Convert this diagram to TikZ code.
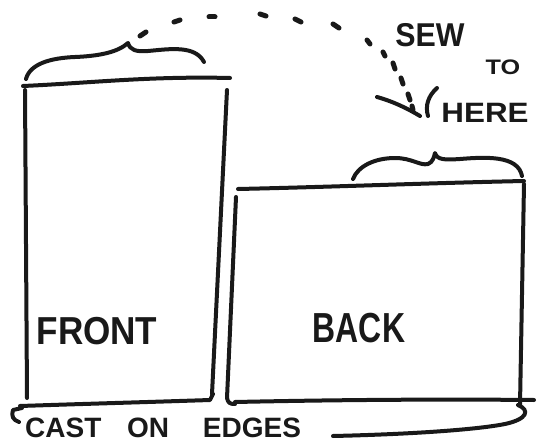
\documentclass[tikz,border=0pt]{standalone}
\usepackage{fontspec}
\usepackage{graphicx}
\newfontfamily\hand{Liberation Sans}
\begin{document}
\begin{tikzpicture}[x=1pt,y=-1pt,
  pen/.style={line width=4pt, line cap=round, line join=round, draw=black!90},
  dotpen/.style={line width=5pt, line cap=round, draw=black!90},
  lbl/.style={inner sep=0pt, text=black!90}]
\useasboundingbox (0,0) rectangle (538,444);
\fill[white] (0,0) rectangle (538,444);
% FRONT piece
\draw[pen] (23,86) .. controls (90,83) and (150,76) .. (230,78);
\draw[pen] (25,90) -- (27,398);
\draw[pen] (227,90) -- (212,394);
\draw[pen] (20,406) .. controls (80,404) and (150,402) .. (210,400) -- (213,394);
\draw[pen] (22,408) -- (13,410) .. controls (11,416) and (13,420) .. (19,422);
% brace above front
\draw[pen] (26,79) .. controls (30,64) and (50,58) .. (75,57)
  .. controls (100,56) and (118,52) .. (128,43)
  .. controls (130,50) and (136,52) .. (148,51)
  .. controls (170,49) and (195,45) .. (204,62);
% BACK piece
\draw[pen] (238,189) .. controls (330,187) and (430,183) .. (524,181);
\draw[pen] (236,197) -- (227,398) .. controls (228,403) and (230,404) .. (235,404);
\draw[pen] (235,402) .. controls (330,400) and (430,399) .. (534,400);
\draw[pen] (524,184) -- (520,405);
% brace above back
\draw[pen] (353,179) .. controls (358,166) and (375,158) .. (395,158)
  .. controls (412,158) and (420,166) .. (428,164)
  .. controls (433,162) and (434,157) .. (435,153)
  .. controls (437,160) and (445,160) .. (460,159)
  .. controls (485,157) and (518,155) .. (522,176);
% cast-on line
\draw[pen] (333,436) .. controls (420,434) and (480,429) .. (505,424)
  .. controls (528,419) and (530,410) .. (518,405);
% stitching dots
\draw[dotpen] (140,36) -- (146,32);
\draw[dotpen] (174,22) -- (180,20);
\draw[dotpen] (209,17) -- (215,17);
\draw[dotpen] (260,14) -- (266,16);
\draw[dotpen] (295,19) -- (301,22);
\draw[dotpen] (333,24) -- (339,28);
\draw[dotpen] (367,40) -- (370,44);
\draw[dotpen] (383,52) -- (385,56);
\draw[dotpen] (393,63) -- (395,69);
\draw[dotpen] (401,78) -- (403,84);
\draw[dotpen] (408,94) -- (410,100);
\draw[dotpen] (412,106) -- (413,110);
% arrowhead strokes
\draw[pen] (377,97) .. controls (395,102) and (410,110) .. (420,116);
\draw[pen] (437,88) .. controls (428,96) and (425,106) .. (428,116);
% labels
\node[lbl] (front) at (97,331) {\hand\bfseries\fontsize{39}{39}\selectfont\scalebox{0.9}[1]{FRONT}};
\node[lbl] (back) at (359,328) {\hand\bfseries\fontsize{42}{42}\selectfont\scalebox{0.76}[1]{BACK}};
\node[lbl] (sew) at (430,35) {\hand\bfseries\fontsize{33}{33}\selectfont\scalebox{0.92}[1]{SEW}};
\node[lbl] (to) at (503,67) {\hand\bfseries\fontsize{21}{21}\selectfont\scalebox{1.2}[1]{TO}};
\node[lbl] (here) at (485,113) {\hand\bfseries\fontsize{28}{28}\selectfont\scalebox{1.12}[1]{HERE}};
\node[lbl, anchor=west] (cast) at (25,428) {\hand\bfseries\fontsize{28}{28}\selectfont CAST \hspace{18pt}ON \hspace{26pt}EDGES};
\end{tikzpicture}
\end{document}
